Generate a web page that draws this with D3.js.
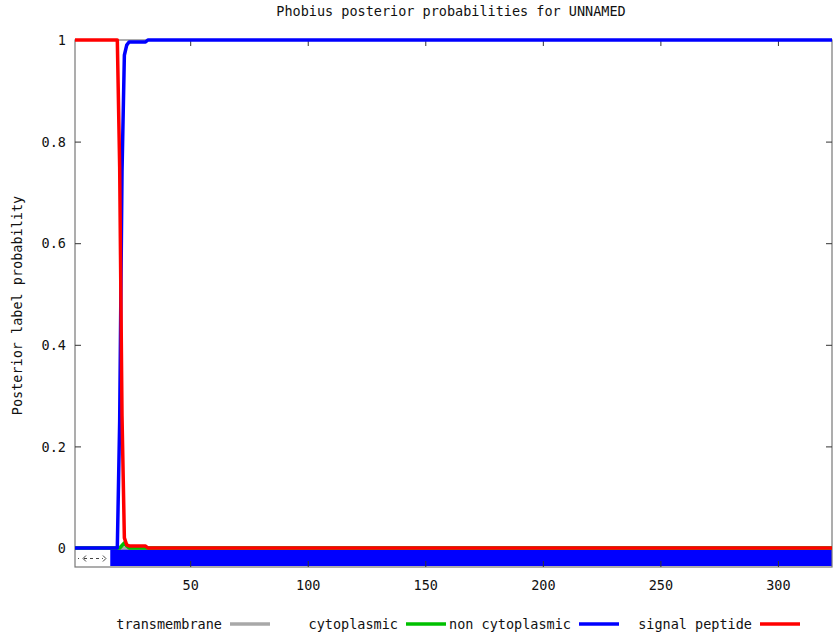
<!DOCTYPE html>
<html>
<head>
<meta charset="utf-8">
<script src="https://cdn.jsdelivr.net/npm/d3@7"></script>
<style>
  html, body { margin: 0; padding: 0; background: #fff; }
  svg { display: block; }
  text { font-family: "DejaVu Sans Mono", "Liberation Mono", monospace; fill: #111; }
</style>
</head>
<body>
<script>
// ---- data ----
const title = "Phobius posterior probabilities for UNNAMED";
const yLabel = "Posterior label probability";
const seqLength = 323;
const xTicks = [50, 100, 150, 200, 250, 300];
const yTicks = [0, 0.2, 0.4, 0.6, 0.8, 1];
const yTickLabels = ["0", "0.2", "0.4", "0.6", "0.8", "1"];

const seriesNames = ["transmembrane", "cytoplasmic", "non cytoplasmic", "signal peptide"];
const seriesColors = ["#a8a8a8", "#00c000", "#0000ff", "#ff0000"];

// breakpoints (residue position, probability)
const tmPos = [1, 323];
const tmVal = [0, 0];
const cytPos = [1, 20, 21, 22, 23, 24, 323];
const cytVal = [0, 0, 0.005, 0.01, 0.004, 0, 0];
const noncytPos = [1, 19, 20, 21, 22, 23, 24, 31, 32, 323];
const noncytVal = [0, 0, 0.25, 0.74, 0.97, 0.99, 0.996, 0.996, 1, 1];
const spPos = [1, 19, 20, 21, 22, 23, 24, 31, 32, 323];
const spVal = [1, 1, 0.75, 0.26, 0.02, 0.006, 0.004, 0.004, 0, 0];

// predicted topology regions along the bottom
const regionType = ["signal", "noncyt"];
const regionStart = [1, 16];
const regionEnd = [15, 323];

// ---- drawing ----
const W = 833, H = 639;
const L = 75, R = 832, T = 40, B = 567;

const svg = d3.select("body").append("svg").attr("width", W).attr("height", H);

const x = d3.scaleLinear().domain([1, seqLength]).range([L, R]);
const y = d3.scaleLinear().domain([-0.0374, 1]).range([B, T]);

// title
svg.append("text").attr("x", 451).attr("y", 16).attr("text-anchor", "middle")
  .style("font-size", "13.5px").text(title);

// y label
svg.append("text").attr("transform", `translate(22,${(T + B) / 2 + 2}) rotate(-90)`)
  .attr("text-anchor", "middle").style("font-size", "13.5px").text(yLabel);

// topology bar (beneath lines)
const bar = svg.append("g");
regionType.forEach((t, i) => {
  if (t === "noncyt") {
    bar.append("rect")
      .attr("x", x(regionStart[i])).attr("y", y(0) + 1)
      .attr("width", x(regionEnd[i]) - x(regionStart[i]))
      .attr("height", B - y(0) - 2)
      .attr("fill", "#0000ff");
  } else if (t === "signal") {
    const yy = (y(0) + B) / 2 + 1;
    const x1 = x(regionStart[i]) + 3, x2 = x(regionEnd[i]) - 1;
    bar.append("line").attr("x1", x1 + 6).attr("x2", x2 - 4).attr("y1", yy).attr("y2", yy)
      .attr("stroke", "#444").attr("stroke-width", 1).attr("stroke-dasharray", "3,3");
    bar.append("path").attr("d", `M${x1 + 8},${yy - 3} L${x1 + 5},${yy} L${x1 + 8},${yy + 3}`)
      .attr("fill", "none").attr("stroke", "#444").attr("stroke-width", 1);
    bar.append("path").attr("d", `M${x2 - 4},${yy - 3} L${x2 - 1},${yy} L${x2 - 4},${yy + 3}`)
      .attr("fill", "none").attr("stroke", "#444").attr("stroke-width", 1);
    bar.append("line").attr("x1", x1).attr("x2", x1 + 3).attr("y1", yy).attr("y2", yy)
      .attr("stroke", "#444").attr("stroke-width", 1).attr("stroke-dasharray", "1,2");
  }
});

// frame
svg.append("rect").attr("x", L).attr("y", T).attr("width", R - L).attr("height", B - T)
  .attr("fill", "none").attr("stroke", "#777").attr("stroke-width", 1.2);

// axes (inward ticks, mirrored)
const axL = d3.axisLeft(y).tickValues(yTicks).tickFormat((d, i) => yTickLabels[i]).tickSize(-6).tickPadding(9);
const gL = svg.append("g").attr("transform", `translate(${L},0)`).call(axL);
const axR = d3.axisRight(y).tickValues(yTicks).tickFormat("").tickSize(-6);
const gR = svg.append("g").attr("transform", `translate(${R},0)`).call(axR);
const axB = d3.axisBottom(x).tickValues(xTicks).tickFormat(d3.format("d")).tickSize(-6).tickPadding(12);
const gB = svg.append("g").attr("transform", `translate(0,${B})`).call(axB);
const axT = d3.axisTop(x).tickValues(xTicks).tickFormat("").tickSize(-6);
const gT = svg.append("g").attr("transform", `translate(0,${T})`).call(axT);
[gL, gR, gB, gT].forEach(g => {
  g.select(".domain").remove();
  g.selectAll(".tick line").attr("stroke", "#333");
  g.selectAll("text").style("font-size", "13.5px").style("font-family", "\"DejaVu Sans Mono\", monospace").attr("fill", "#111");
});
gL.selectAll("text").attr("dx", "0").attr("dy", "0.35em");
gB.selectAll("text").attr("dy", "0.8em");

// series lines
const line = d3.line().x(d => x(d[0])).y(d => y(d[1]));
const seriesData = [
  d3.zip(tmPos, tmVal),
  d3.zip(cytPos, cytVal),
  d3.zip(noncytPos, noncytVal),
  d3.zip(spPos, spVal)
];
seriesData.forEach((d, i) => {
  svg.append("path").datum(d).attr("d", line)
    .attr("fill", "none").attr("stroke", seriesColors[i])
    .attr("stroke-width", 3.5).attr("stroke-linejoin", "round");
});

// legend
const legX = [222, 398, 571, 752];   // right edge of each label text
const leg = svg.append("g");
seriesNames.forEach((n, i) => {
  leg.append("text").attr("x", legX[i]).attr("y", 629).attr("text-anchor", "end")
    .style("font-size", "13.5px").text(n);
  leg.append("line").attr("x1", legX[i] + 8).attr("x2", legX[i] + 48)
    .attr("y1", 624).attr("y2", 624)
    .attr("stroke", seriesColors[i]).attr("stroke-width", 3.5);
});
</script>
</body>
</html>
